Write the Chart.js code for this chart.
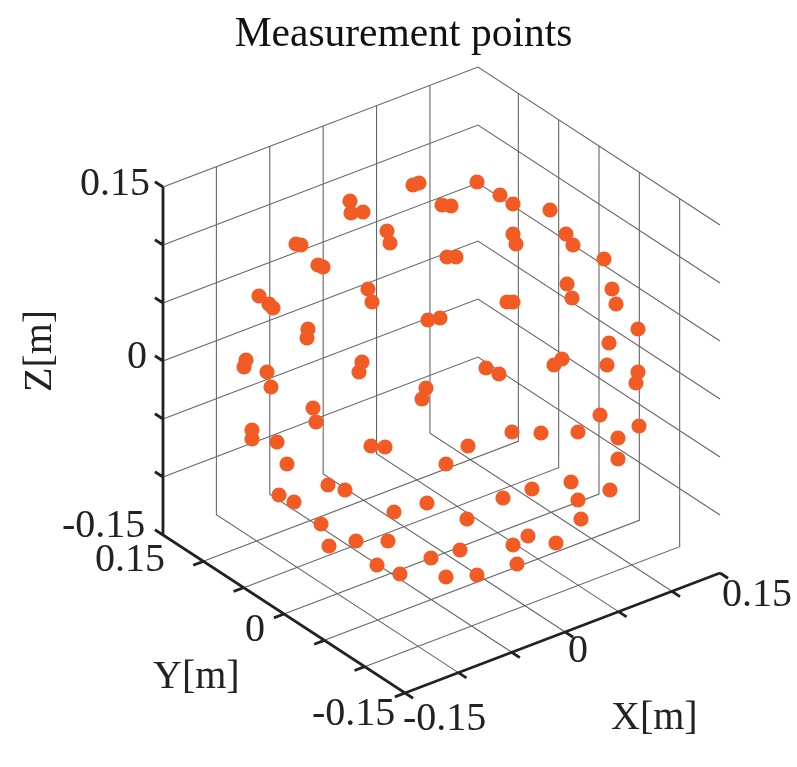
<!DOCTYPE html>
<html>
<head>
<meta charset="utf-8">
<style>html,body{margin:0;padding:0;background:#fff}canvas{display:block}</style>
<script src="https://cdn.jsdelivr.net/npm/chart.js@4"></script>
</head>
<body>
<canvas id="c" width="797" height="767"></canvas>
<script>
const pointsH = [413,419,350,351,363,442,451,477,387,390,296,301,318,323,447,456,259,269,273,368,372,428,440,
  500,513,550,513,516,566,573,604,567,572,612,616,507,513,
  308,307,246,244,267,271,362,359,426,422,313,316,252,252,277,287,371,385,446,328,345,279,294,427,394,321,329,356,388,377,400,431,446,
  638,609,562,554,486,499,607,638,636,600,639,512,541,578,618,618,468,571,610,578,532,503,581,467,528,556,513,517,460,477];
const pointsV = [185,183,201,213,212,205,206,182,231,243,244,245,265,267,257,257,296,304,308,289,302,320,318,
  195,204,210,234,244,234,245,259,284,298,289,304,302,302,
  329,338,360,367,372,387,362,372,388,399,408,422,430,439,442,464,446,447,464,485,490,495,502,503,512,524,546,541,541,565,574,558,577,
  329,343,359,365,368,374,365,372,383,415,426,432,433,432,438,459,446,482,490,500,489,498,519,519,536,543,545,564,550,575];

// Axis ticks (metres)
const xTicks = [-0.15,-0.1,-0.05,0,0.05,0.1,0.145];
const yTicks = [-0.15,-0.1,-0.05,0,0.05,0.1,0.15];
const zTicks = [-0.15,-0.1,-0.05,0,0.05,0.1,0.15];
const labels = [
  ["0.15",80,195],["0",127,368],["-0.15",62,537],
  ["0.15",95,571],["0",245,641],["-0.15",312,725],
  ["-0.15",403,730],["0",568,662],["0.15",722,606],
  ["Y[m]",153,688],["X[m]",611,729]
];

function proj(x,y,z){
  const fx=(x+0.15)/0.295, fy=(y+0.15)/0.3, fz=(z+0.15)/0.3;
  return {x:405+315*fx-242*fy, y:693-120*fx-158*fy-348*fz};
}
const xMin=xTicks[0], xMax=xTicks[xTicks.length-1], yMin=yTicks[0], yMax=yTicks[yTicks.length-1], zMin=zTicks[0], zMax=zTicks[zTicks.length-1];
const gap={x:null,y:null};
const grid=[], frame=[];
function seg(list,...pts){pts.forEach(p=>list.push(p));list.push(gap);}
xTicks.slice(1,-1).forEach(x=>{
  seg(grid,proj(x,yMin,zMin),proj(x,yMax,zMin),proj(x,yMax,zMax));
  seg(frame,proj(x,yMin,zMin),proj(x,yMin-0.01,zMin));
});
yTicks.slice(1,-1).forEach(y=>{
  seg(grid,proj(xMin,y,zMin),proj(xMax,y,zMin),proj(xMax,y,zMax));
  seg(frame,proj(xMin,y,zMin),proj(xMin-0.0095,y,zMin));
});
zTicks.slice(1).forEach(z=>{
  seg(grid,proj(xMin,yMax,z),proj(xMax,yMax,z),proj(xMax,yMin,z));
});
zTicks.forEach(z=>seg(frame,proj(xMin,yMax,z),proj(xMin,yMax+0.01,z)));
seg(frame,proj(xMin,yMin,zMin),proj(xMin-0.0095,yMin,zMin));
seg(frame,proj(xMin,yMin,zMin),proj(xMin,yMin-0.01,zMin));
seg(frame,proj(xMax,yMin,zMin),proj(xMax,yMin-0.01,zMin));
seg(frame,proj(xMax,yMin,zMin),proj(xMin,yMin,zMin),proj(xMin,yMax,zMin),proj(xMin,yMax,zMax));

const FONT='"Liberation Serif","Times New Roman",serif';
const textPlugin={id:'axisText',afterDraw(chart){
  const c=chart.ctx;c.save();c.fillStyle='#222';c.font='40px '+FONT;c.textAlign='left';c.textBaseline='alphabetic';
  labels.forEach(l=>c.fillText(l[0],l[1],l[2]));
  c.translate(51,392);c.rotate(-Math.PI/2);c.fillText('Z[m]',0,0);
  c.restore();
}};

new Chart(document.getElementById('c'),{
  type:'scatter',
  data:{datasets:[
    {label:'Measurement points',data:pointsH.map((h,i)=>({x:h,y:pointsV[i]})),backgroundColor:'#F35B25',borderWidth:0,pointRadius:7.6,order:0},
    {label:'Axes',type:'line',data:frame,borderColor:'#222',borderWidth:2.8,pointRadius:0,spanGaps:false,fill:false,order:1},
    {label:'Grid',type:'line',data:grid,borderColor:'#666',borderWidth:1.1,pointRadius:0,spanGaps:false,fill:false,order:2}
  ]},
  options:{
    responsive:false,animation:false,
    layout:{padding:{left:10},autoPadding:false},
    plugins:{
      legend:{display:false},tooltip:{enabled:false},
      title:{display:true,text:'Measurement points',color:'#111',font:{family:FONT,size:41.5,weight:'normal',lineHeight:1},padding:{top:14,bottom:4.5}}
    },
    scales:{
      x:{type:'linear',display:false,min:10,max:797},
      y:{type:'linear',display:false,min:60,max:767,reverse:true}
    }
  },
  plugins:[textPlugin]
});
</script>
</body>
</html>
